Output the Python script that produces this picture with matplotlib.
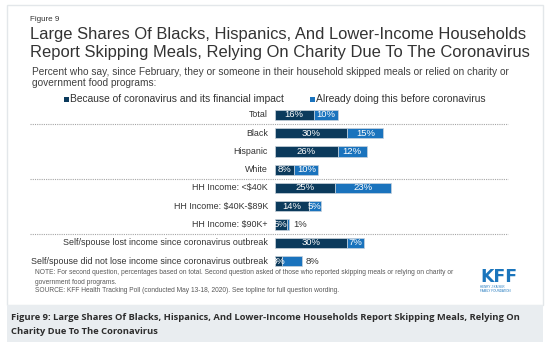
import matplotlib
matplotlib.use("Agg")
import matplotlib.pyplot as plt
from matplotlib.patches import Rectangle
from matplotlib.lines import Line2D
import matplotlib.transforms as mtransforms

categories = ["Total", "Black", "Hispanic", "White", "HH Income: <$40K",
              "HH Income: $40K-$89K", "HH Income: $90K+",
              "Self/spouse lost income since coronavirus outbreak",
              "Self/spouse did not lose income since coronavirus outbreak"]
because_covid = [16, 30, 26, 8, 25, 14, 5, 30, 3]
already_before = [10, 15, 12, 10, 23, 5, 1, 7, 8]
series_names = ["Because of coronavirus and its financial impact",
                "Already doing this before coronavirus"]

DARK = "#0b3a5c"
LIGHT = "#1a73bd"
TXT = "#333333"

W, H = 550, 349
fig = plt.figure(figsize=(W / 100, H / 100), dpi=100)
fig.patch.set_facecolor("white")
renderer = fig.canvas.get_renderer()

def fx(x):
    return x / W

def fy(y):
    return 1 - y / H

def fit(t, width):
    ext = t.get_window_extent(renderer=renderer)
    t.set_fontsize(t.get_fontsize() * width / ext.width)
    return t

# card and caption box
fig.add_artist(Rectangle((fx(7), fy(305)), fx(543) - fx(7), fy(5) - fy(305),
                         transform=fig.transFigure, facecolor="white",
                         edgecolor="#e3e7ea", lw=1.0, zorder=0))
fig.add_artist(Rectangle((fx(7), fy(342)), fx(543) - fx(7), fy(305) - fy(342),
                         transform=fig.transFigure, facecolor="#e9edf0",
                         edgecolor="none", zorder=0))

SANS = ["Liberation Sans", "DejaVu Sans"]

t = fig.text(fx(30), fy(21), "Figure 9", fontsize=5, family=SANS, color=TXT, va="baseline")
fit(t, 30)
t1 = fig.text(fx(30), fy(38.5), "Large Shares Of Blacks, Hispanics, And Lower-Income Households",
              fontsize=12, family=SANS, color=TXT, va="baseline")
t2 = fig.text(fx(30), fy(57.5), "Report Skipping Meals, Relying On Charity Due To The Coronavirus",
              fontsize=12, family=SANS, color=TXT, va="baseline")
fit(t2, 496)
t1.set_fontsize(t2.get_fontsize())

s1 = fig.text(fx(32), fy(75), "Percent who say, since February, they or someone in their household skipped meals or relied on charity or",
              fontsize=7, family=SANS, color="#404040", va="baseline")
fit(s1, 477)
fig.text(fx(32), fy(86.5), "government food programs:", fontsize=s1.get_fontsize(),
         family=SANS, color="#404040", va="baseline")

# legend
leg_x = [70, 316]
lt = None
for i, (name, col) in enumerate(zip(series_names, [DARK, LIGHT])):
    fig.add_artist(Rectangle((fx(leg_x[i] - 6), fy(101.5)), 5 / W, 5 / H,
                             transform=fig.transFigure, facecolor=col, edgecolor="none"))
    tt = fig.text(fx(leg_x[i]), fy(99), name, fontsize=6.5, family=SANS, color=TXT, va="center")
    if i == 0:
        fit(tt, 213)
        lt = tt.get_fontsize()
    else:
        tt.set_fontsize(lt)

# bars axes
n = len(categories)
row0, step = 115, 18.25
top = row0 - step / 2
bottom = row0 + step * (n - 1) + step / 2
x0 = 275
ppp = 2.41
ax = fig.add_axes([fx(x0), fy(bottom), fx(543) - fx(x0), fy(top) - fy(bottom)])
ax.set_xlim(0, (543 - x0) / ppp)
ax.set_ylim(n - 0.5, -0.5)
ax.axis("off")
ax.patch.set_alpha(0)

ypos = list(range(n))
ax.barh(ypos, because_covid, height=0.55, color=DARK, edgecolor="#c9d3dc", lw=0.5)
ax.barh(ypos, already_before, left=because_covid, height=0.55, color=LIGHT,
        edgecolor="#c9d3dc", lw=0.5)

# row labels
labels = []
for i, c in enumerate(categories):
    tt = ax.text(-7 / ppp, i, c.replace("$", r"\$"), ha="right", va="center", fontsize=6.5,
                 family=SANS, color=TXT)
    labels.append(tt)
fit(labels[-1], 234)
for tt in labels:
    tt.set_fontsize(labels[-1].get_fontsize())

# value labels
vals = []
for i in range(n):
    a, b = because_covid[i], already_before[i]
    vals.append(ax.text(a / 2, i, f"{a}%", ha="center", va="center", color="white",
                        fontsize=7, family=SANS))
    if b >= 5:
        vals.append(ax.text(a + b / 2, i, f"{b}%", ha="center", va="center", color="white",
                            fontsize=7, family=SANS))
    else:
        vals.append(ax.text(a + b + 4 / ppp, i, f"{b}%", ha="left", va="center", color=TXT,
                            fontsize=7, family=SANS))
# the "did not lose" light segment label sits outside the bar
vals[-1].set_position((because_covid[-1] + already_before[-1] + 4 / ppp, n - 1))
vals[-1].set_ha("left")
vals[-1].set_color(TXT)
fit(vals[2], 19)
for v in vals:
    v.set_fontsize(vals[2].get_fontsize())

# dotted separators
trans = mtransforms.blended_transform_factory(fig.transFigure, ax.transData)
for yb in [0.5, 3.5, 6.5]:
    fig.add_artist(Line2D([fx(30), fx(508)], [yb, yb], transform=trans,
                          color="#a6a6a6", lw=0.8, ls=(0, (1, 1))))

# notes
NOTE_C = "#595959"
nt = fig.text(fx(35), fy(273), "NOTE: For second question, percentages based on total. Second question asked of those who reported skipping meals or relying on charity or",
              fontsize=4.5, family=SANS, color=NOTE_C, va="center")
fit(nt, 417)
fig.text(fx(35), fy(282), "government food programs.", fontsize=nt.get_fontsize(),
         family=SANS, color=NOTE_C, va="center")
fig.text(fx(35), fy(291), "SOURCE: KFF Health Tracking Poll (conducted May 13-18, 2020). See topline for full question wording.",
         fontsize=nt.get_fontsize(), family=SANS, color=NOTE_C, va="center")

# KFF logo
kfam = ["Liberation Sans Narrow", "DejaVu Sans"]
k = fig.text(fx(480), fy(282.5), "KFF", fontsize=12, family=kfam, weight="bold",
             color="#1b75bc", va="baseline")
fit(k, 37)
fig.text(fx(480), fy(287), "HENRY J KAISER", fontsize=2.2, family=SANS, color="#1b75bc", va="center")
fig.text(fx(480), fy(291), "FAMILY FOUNDATION", fontsize=2.2, family=SANS, color="#1b75bc", va="center")

# caption
CAP = ["Open Sans", "DejaVu Sans"]
c1 = fig.text(fx(11), fy(318), "Figure 9: Large Shares Of Blacks, Hispanics, And Lower-Income Households Report Skipping Meals, Relying On",
              fontsize=7.5, family=CAP, weight="bold", color="#2d2d2d", va="center")
fit(c1, 506)
fig.text(fx(11), fy(331), "Charity Due To The Coronavirus", fontsize=c1.get_fontsize(),
         family=CAP, weight="bold", color="#2d2d2d", va="center")

fig.savefig("out.png", dpi=100, facecolor="white")
